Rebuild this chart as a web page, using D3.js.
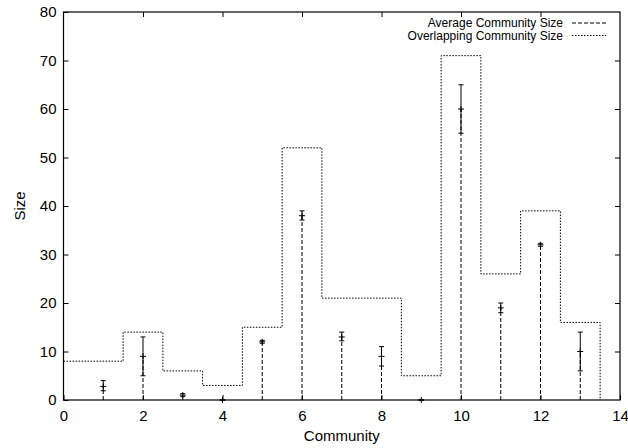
<!DOCTYPE html>
<html>
<head>
    <meta charset="utf-8">
    <script src="https://cdnjs.cloudflare.com/ajax/libs/d3/7.8.5/d3.min.js"></script>
    <style>
        body { margin: 0; background: #fff; }
        svg { display: block; font-family: "Liberation Sans", Arial, Helvetica, sans-serif; }
    </style>
</head>
<body>
    <svg id="chart"></svg>
    <script>
        // community index
        const communities = [1, 2, 3, 4, 5, 6, 7, 8, 9, 10, 11, 12, 13];
        // average community size with error range
        const avgSize = [2.8, 9, 1, 0, 12, 38, 13, 9, 0, 60, 19, 32, 10];
        const avgLow  = [1.9, 5, 0.7, 0, 11.7, 37.1, 12.2, 7, 0, 55, 18, 31.7, 6];
        const avgHigh = [4, 13, 1.3, 0, 12.3, 39, 14, 11, 0, 65, 20, 32.3, 14];
        // overlapping community size (steps)
        const overlapSize = [8, 14, 6, 3, 15, 52, 21, 21, 5, 71, 26, 39, 16];

        const xTicks = [0, 2, 4, 6, 8, 10, 12, 14];
        const yTicks = [0, 10, 20, 30, 40, 50, 60, 70, 80];
        const legendLabels = ['Average Community Size', 'Overlapping Community Size'];

        const width = 628, height = 448;
        const margin = {top: 12, right: 8, bottom: 48, left: 63.5};

        const svg = d3.select('#chart')
            .attr('width', width)
            .attr('height', height);

        const x = d3.scaleLinear().domain([0, 14]).range([margin.left, width - margin.right]);
        const y = d3.scaleLinear().domain([0, 80]).range([height - margin.bottom, margin.top]);

        const plot = svg.append('g');

        // axes, ticks inward and mirrored
        const tickLen = 5;
        const axisStyle = g => {
            g.select('.domain').remove();
            g.selectAll('line').attr('stroke', '#000');
            g.selectAll('text').attr('fill', '#000').attr('font-size', 15);
        };
        svg.append('g')
            .attr('transform', `translate(0,${y(0)})`)
            .call(d3.axisBottom(x).tickValues(xTicks).tickSizeInner(-tickLen).tickSizeOuter(0).tickPadding(10))
            .call(axisStyle);
        svg.append('g')
            .attr('transform', `translate(0,${y(80)})`)
            .call(d3.axisTop(x).tickValues(xTicks.slice(1, -1)).tickSizeInner(-tickLen).tickSizeOuter(0).tickFormat(''))
            .call(axisStyle);
        svg.append('g')
            .attr('transform', `translate(${x(0)},0)`)
            .call(d3.axisLeft(y).tickValues(yTicks).tickSizeInner(-tickLen).tickSizeOuter(0).tickPadding(7))
            .call(axisStyle);
        svg.append('g')
            .attr('transform', `translate(${x(14)},0)`)
            .call(d3.axisRight(y).tickValues(yTicks.slice(1, -1)).tickSizeInner(-tickLen).tickSizeOuter(0).tickFormat(''))
            .call(axisStyle);

        // impulses (dashed)
        plot.selectAll('.impulse')
            .data(communities)
            .join('line')
            .attr('x1', d => x(d)).attr('x2', d => x(d))
            .attr('y1', y(0))
            .attr('y2', (d, i) => y(avgSize[i]))
            .attr('stroke', '#000')
            .attr('stroke-width', 1)
            .attr('stroke-dasharray', '4,2');

        // overlapping sizes as histogram steps (dotted)
        const stepPts = [[x.domain()[0], overlapSize[0]]];
        for (let i = 1; i < communities.length; i++) {
            stepPts.push([(communities[i - 1] + communities[i]) / 2, overlapSize[i]]);
        }
        const last = communities[communities.length - 1];
        stepPts.push([last + 0.5, 0]);
        plot.append('path')
            .datum(stepPts)
            .attr('d', d3.line().x(d => x(d[0])).y(d => y(d[1])).curve(d3.curveStepAfter))
            .attr('fill', 'none')
            .attr('stroke', '#000')
            .attr('stroke-width', 1)
            .attr('stroke-dasharray', '1.5,1.5');

        // error bars
        const eb = plot.selectAll('.eb')
            .data(communities)
            .join('g')
            .attr('stroke', '#000')
            .attr('stroke-width', 1);
        eb.append('line')
            .attr('x1', d => x(d)).attr('x2', d => x(d))
            .attr('y1', (d, i) => y(avgLow[i]))
            .attr('y2', (d, i) => y(avgHigh[i]));
        eb.append('line')
            .attr('x1', d => x(d) - 2.5).attr('x2', d => x(d) + 2.5)
            .attr('y1', (d, i) => y(avgLow[i])).attr('y2', (d, i) => y(avgLow[i]));
        eb.append('line')
            .attr('x1', d => x(d) - 2.5).attr('x2', d => x(d) + 2.5)
            .attr('y1', (d, i) => y(avgHigh[i])).attr('y2', (d, i) => y(avgHigh[i]));
        // '+' point
        eb.append('line')
            .attr('x1', d => x(d) - 3).attr('x2', d => x(d) + 3)
            .attr('y1', (d, i) => y(avgSize[i])).attr('y2', (d, i) => y(avgSize[i]));
        eb.append('line')
            .attr('x1', d => x(d)).attr('x2', d => x(d))
            .attr('y1', (d, i) => y(avgSize[i]) - 3).attr('y2', (d, i) => y(avgSize[i]) + 3);

        // frame
        svg.append('rect')
            .attr('x', x(0)).attr('y', y(80))
            .attr('width', x(14) - x(0)).attr('height', y(0) - y(80))
            .attr('fill', 'none')
            .attr('stroke', '#000')
            .attr('stroke-width', 1.2);

        // axis titles
        svg.append('text')
            .attr('x', (x(0) + x(14)) / 2).attr('y', 441)
            .attr('text-anchor', 'middle')
            .attr('font-size', 15)
            .text('Community');
        svg.append('text')
            .attr('transform', `translate(25,${(y(0) + y(80)) / 2}) rotate(-90)`)
            .attr('text-anchor', 'middle')
            .attr('font-size', 15)
            .text('Size');

        // legend
        const dashes = ['4,2', '1.5,1.5'];
        const legend = svg.append('g');
        legendLabels.forEach((lab, i) => {
            const ly = 23 + i * 12.5;
            legend.append('text')
                .attr('x', 563).attr('y', ly)
                .attr('dy', '0.35em')
                .attr('text-anchor', 'end')
                .attr('font-size', 12)
                .text(lab);
            legend.append('line')
                .attr('x1', 572).attr('x2', 606)
                .attr('y1', ly).attr('y2', ly)
                .attr('stroke', '#000')
                .attr('stroke-dasharray', dashes[i]);
        });
    </script>
</body>
</html>
